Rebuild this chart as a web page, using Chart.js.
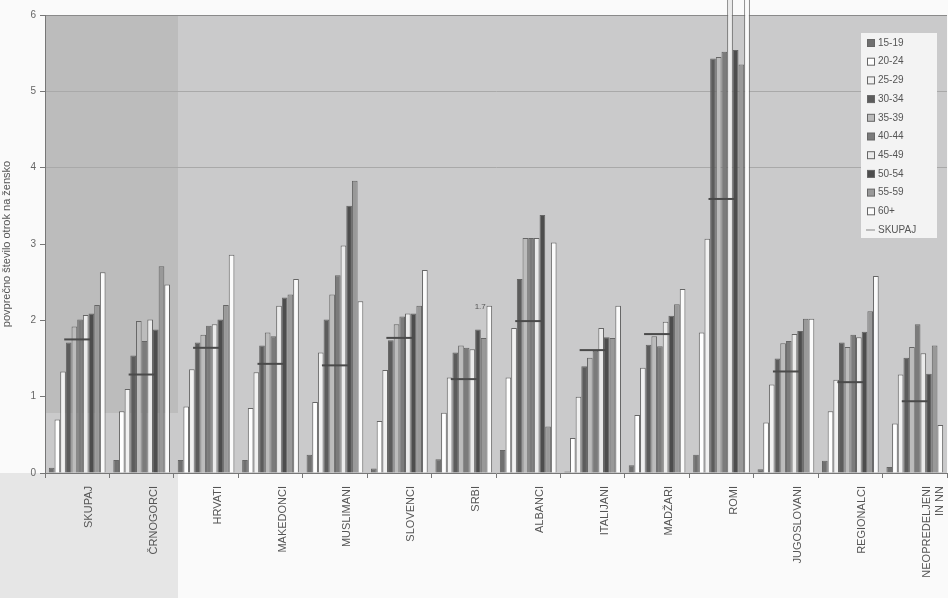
<!DOCTYPE html>
<html>
<head>
<meta charset="utf-8">
<script src="https://cdn.jsdelivr.net/npm/chart.js@4.4.1/dist/chart.umd.min.js"></script>
<style>
  html, body { margin: 0; padding: 0; background: #fff; overflow: hidden; }
  #wrap { position: relative; width: 948px; height: 598px; overflow: hidden; }
</style>
</head>
<body>
<div id="wrap"><canvas id="chart" width="962" height="598"></canvas></div>
<script>
// Data
const categories = ['SKUPAJ', 'ČRNOGORCI', 'HRVATI', 'MAKEDONCI', 'MUSLIMANI', 'SLOVENCI', 'SRBI',
  'ALBANCI', 'ITALIJANI', 'MADŽARI', 'ROMI', 'JUGOSLOVANI', 'REGIONALCI', ['NEOPREDELJENI', 'IN NN']];

const ageGroups = ['15-19', '20-24', '25-29', '30-34', '35-39', '40-44', '45-49', '50-54', '55-59', '60+'];

const a15_19 = [0.07, 0.17, 0.17, 0.17, 0.24, 0.06, 0.18, 0.30, 0.02, 0.10, 0.24, 0.05, 0.16, 0.08];
const a20_24 = [0.70, 0.81, 0.87, 0.85, 0.93, 0.68, 0.79, 1.25, 0.46, 0.76, 1.84, 0.66, 0.81, 0.65];
const a25_29 = [1.33, 1.10, 1.36, 1.32, 1.58, 1.35, 1.25, 1.90, 1.00, 1.38, 3.07, 1.16, 1.22, 1.29];
const a30_34 = [1.71, 1.54, 1.71, 1.67, 2.01, 1.74, 1.58, 2.54, 1.40, 1.68, 5.43, 1.50, 1.71, 1.51];
const a35_39 = [1.92, 1.99, 1.81, 1.84, 2.34, 1.95, 1.67, 3.08, 1.51, 1.79, 5.45, 1.70, 1.65, 1.65];
const a40_44 = [2.01, 1.73, 1.93, 1.79, 2.59, 2.05, 1.64, 3.08, 1.60, 1.66, 5.52, 1.73, 1.81, 1.95];
const a45_49 = [2.07, 2.01, 1.95, 2.19, 2.98, 2.09, 1.62, 3.08, 1.90, 1.98, 6.50, 1.82, 1.78, 1.57];
const a50_54 = [2.09, 1.88, 2.01, 2.30, 3.50, 2.09, 1.88, 3.38, 1.78, 2.06, 5.54, 1.86, 1.85, 1.30];
const a55_59 = [2.20, 2.71, 2.20, 2.34, 3.83, 2.19, 1.77, 0.61, 1.77, 2.21, 5.35, 2.02, 2.12, 1.67];
const a60 = [2.63, 2.47, 2.86, 2.54, 2.25, 2.66, 2.19, 3.02, 2.19, 2.41, 6.50, 2.02, 2.58, 0.63];
const skupaj = [1.75, 1.29, 1.64, 1.43, 1.41, 1.77, 1.23, 1.99, 1.61, 1.82, 3.59, 1.33, 1.19, 0.94];

const yTicks = [0, 1, 2, 3, 4, 5, 6];

const seriesValues = [a15_19, a20_24, a25_29, a30_34, a35_39, a40_44, a45_49, a50_54, a55_59, a60];
const fills = ['#707070', '#ffffff', '#f1f1f1', '#5c5c5c', '#bcbcbc', '#7b7b7b', '#ebebeb', '#4d4d4d', '#999999', '#fbfbfb'];

const datasets = ageGroups.map((name, i) => ({
  type: 'bar',
  label: name,
  data: seriesValues[i],
  backgroundColor: fills[i],
  borderColor: '#666',
  borderWidth: 1,
  clip: false
}));

datasets.push({
  type: 'line',
  label: 'SKUPAJ',
  data: skupaj,
  showLine: false,
  pointStyle: 'line',
  pointRadius: 13,
  pointHoverRadius: 13,
  pointBorderWidth: 2,
  borderColor: '#4a4a4a',
  backgroundColor: '#4a4a4a',
  order: -1
});

// scanned-paper background
const paper = {
  id: 'paper',
  beforeDraw(chart) {
    const { ctx, chartArea: a } = chart;
    ctx.save();
    ctx.fillStyle = '#fafafa';
    ctx.fillRect(0, 0, chart.width, chart.height);
    ctx.fillStyle = '#e6e6e6';
    ctx.fillRect(0, a.bottom, 178, chart.height - a.bottom);
    ctx.fillStyle = '#cacacb';
    ctx.fillRect(a.left, a.top, a.right - a.left, a.bottom - a.top);
    ctx.fillStyle = '#bcbcbc';
    ctx.fillRect(a.left, a.top, 133, a.bottom - a.top - 60);
    ctx.strokeStyle = '#8a8a8a';
    ctx.lineWidth = 1;
    ctx.beginPath();
    ctx.moveTo(a.left, a.top + 0.5);
    ctx.lineTo(a.right, a.top + 0.5);
    ctx.stroke();
    ctx.restore();
  }
};

// legend box inside the plot, plus the stray "1.7" note
const boxLegend = {
  id: 'boxLegend',
  afterDraw(chart) {
    const ctx = chart.ctx;
    ctx.save();
    ctx.fillStyle = '#f3f3f3';
    ctx.fillRect(861, 33, 76, 205);
    ctx.font = '10px "Liberation Sans", Arial, sans-serif';
    ctx.textBaseline = 'middle';
    ageGroups.forEach((name, i) => {
      const y = 43 + i * 18.7;
      ctx.fillStyle = fills[i];
      ctx.fillRect(867.5, y - 3.5, 7, 7);
      ctx.strokeStyle = '#666';
      ctx.lineWidth = 1;
      ctx.strokeRect(867.5, y - 3.5, 7, 7);
      ctx.fillStyle = '#555';
      ctx.fillText(name, 878, y);
    });
    const ys = 43 + 10 * 18.7;
    ctx.strokeStyle = '#aaa';
    ctx.lineWidth = 1.5;
    ctx.beginPath();
    ctx.moveTo(866, ys);
    ctx.lineTo(875, ys);
    ctx.stroke();
    ctx.fillStyle = '#555';
    ctx.fillText('SKUPAJ', 878, ys);

    const xs = chart.scales.x, yS = chart.scales.y;
    ctx.font = '8px "Liberation Sans", Arial, sans-serif';
    ctx.fillStyle = '#555';
    ctx.textAlign = 'right';
    ctx.fillText('1.7', xs.getPixelForValue(6) + 22, yS.getPixelForValue(a60[6]) + 1);
    ctx.restore();
  }
};

new Chart(document.getElementById('chart'), {
  type: 'bar',
  data: { labels: categories, datasets: datasets },
  options: {
    responsive: false,
    animation: false,
    layout: { padding: { top: 15, right: 0, left: 0, bottom: 0 } },
    datasets: {
      bar: { categoryPercentage: 0.88, barPercentage: 1.0 }
    },
    plugins: {
      legend: { display: false },
      tooltip: { enabled: false }
    },
    scales: {
      x: {
        grid: { offset: true, drawOnChartArea: false, drawTicks: true, tickLength: 5, color: '#777' },
        border: { color: '#777' },
        ticks: {
          autoSkip: false,
          minRotation: 90,
          maxRotation: 90,
          labelOffset: 12,
          padding: 8,
          color: '#555',
          font: { family: '"Liberation Sans", Arial, sans-serif', size: 11 }
        },
        afterFit(scale) { scale.height = 125; }
      },
      y: {
        min: 0,
        max: 6,
        afterBuildTicks(scale) { scale.ticks = yTicks.map(v => ({ value: v })); },
        grid: {
          color: (c) => (c.tick && c.tick.value >= 4 && c.tick.value < 6) ? '#a9a9a9' : 'rgba(0,0,0,0)',
          tickColor: '#777',
          tickLength: 5
        },
        border: { color: '#777' },
        ticks: {
          padding: 4,
          color: '#666',
          font: { family: '"Liberation Sans", Arial, sans-serif', size: 10 }
        },
        title: {
          display: true,
          text: 'povprečno število otrok na žensko',
          color: '#555',
          padding: { top: 0, bottom: 0 },
          font: { family: '"Liberation Sans", Arial, sans-serif', size: 11 }
        },
        afterFit(scale) { scale.width = 45; }
      }
    }
  },
  plugins: [paper, boxLegend]
});
</script>
</body>
</html>
